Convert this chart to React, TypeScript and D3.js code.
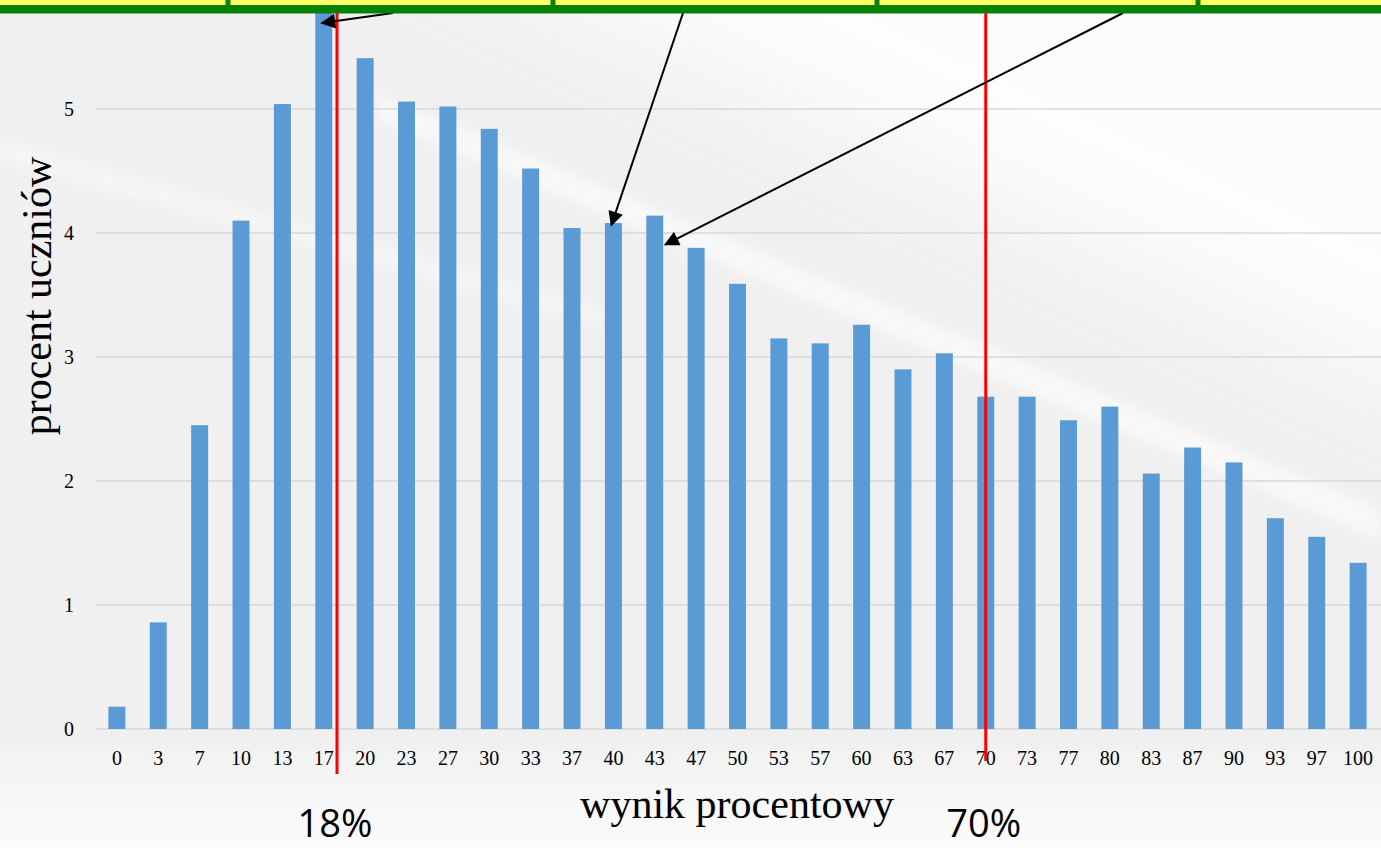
import React from "react";
import * as d3 from "d3";

const categories = ["0","3","7","10","13","17","20","23","27","30","33","37","40","43","47","50","53","57","60","63","67","70","73","77","80","83","87","90","93","97","100"];
const values = [0.18,0.86,2.45,4.10,5.04,6.30,5.41,5.06,5.02,4.84,4.52,4.04,4.08,4.14,3.88,3.59,3.15,3.11,3.26,2.90,3.03,2.68,2.68,2.49,2.60,2.06,2.27,2.15,1.70,1.55,1.34];
const yTicks = [0,1,2,3,4,5];
const thresholds = ["18%", "70%"];
const boxDividers = [228, 553, 877, 1198];

const W = 1381, H = 848;

export default function App() {
  const x = d3.scaleBand<string>().domain(categories).range([96, 1379]).paddingInner(0.59).paddingOuter(0.3);
  const y = d3.scaleLinear().domain([0, 5]).range([729, 109]);
  const bw = x.bandwidth();
  const cx = (c: string) => (x(c) as number) + bw / 2;
  const step = x.step();

  // threshold lines: 18% lies just right of the "17" bar, 70% centred at "70"
  const tX = [cx("17") + step * 0.32, cx("70")];

  const arrowSpecs = [
    { from: [393, 13], to: [cx("17") - 2, 23] },
    { from: [683, 13], to: [cx("40") - 2, y(values[categories.indexOf("40")]) + 2] },
    { from: [1123, 13], to: [cx("43") + bw / 2 + 2, y(values[categories.indexOf("43")]) + 29] },
  ];

  const serif = "Liberation Serif, Times New Roman, serif";

  return (
    <svg width={W} height={H} style={{ position: "absolute", left: 0, top: 0, display: "block" }}>
      <defs>
        <filter id="blur" x="-20%" y="-20%" width="140%" height="140%">
          <feGaussianBlur stdDeviation="50" />
        </filter>
        <filter id="blur2" x="-20%" y="-50%" width="140%" height="200%">
          <feGaussianBlur stdDeviation="6" />
        </filter>
        <marker id="ah" viewBox="0 0 10 10" refX="9" refY="5" markerWidth="9" markerHeight="7.5" orient="auto" markerUnits="strokeWidth">
          <path d="M0,0 L10,5 L0,10 z" fill="#000" />
        </marker>
      </defs>
      {/* background */}
      <rect x={0} y={0} width={W} height={H} fill="#f0f0f0" />
      <polygon points="350,-100 1500,-100 1500,430" fill="#ffffff" opacity={0.85} filter="url(#blur)" />
      <rect x={-100} y={790} width={1600} height={200} fill="#ffffff" opacity={0.8} filter="url(#blur)" />
      <polygon points="380,95 1381,510 1381,540 380,120" fill="#ffffff" opacity={0.55} filter="url(#blur2)" />
      <polygon points="0,140 600,310 600,325 0,160" fill="#ffffff" opacity={0.4} filter="url(#blur2)" />

      {/* gridlines */}
      {yTicks.map((t) => (
        <line key={t} x1={96} x2={1381} y1={y(t)} y2={y(t)} stroke="#d9d9d9" strokeWidth={1.5} />
      ))}
      {/* y tick labels */}
      {yTicks.map((t) => (
        <text key={t} x={69} y={y(t) + 7} textAnchor="middle" fontFamily={serif} fontSize={20} fill="#000">{t}</text>
      ))}
      {/* bars */}
      {categories.map((c, i) => (
        <rect key={c} x={x(c)} y={y(values[i])} width={bw} height={y(0) - y(values[i])} fill="#5b9bd5" />
      ))}
      {/* x tick labels */}
      {categories.map((c) => (
        <text key={c} x={cx(c)} y={765} textAnchor="middle" fontFamily={serif} fontSize={20} fill="#000">{c}</text>
      ))}
      {/* axis titles */}
      <text x={737} y={818} textAnchor="middle" fontFamily={serif} fontSize={42} fill="#000">wynik procentowy</text>
      <text transform="translate(51,296) rotate(-90)" textAnchor="middle" fontFamily={serif} fontSize={42} fill="#000">procent uczniów</text>

      {/* threshold lines */}
      <line x1={tX[0]} x2={tX[0]} y1={10} y2={774} stroke="#ff0000" strokeWidth={3} />
      <line x1={tX[1]} x2={tX[1]} y1={10} y2={761} stroke="#ff0000" strokeWidth={3} />
      {thresholds.map((t, i) => (
        <text key={t} x={tX[i] - 2} y={837} textAnchor="middle" fontFamily="Open Sans, Noto Sans, sans-serif" fontSize={38} fill="#000">{t}</text>
      ))}

      {/* arrows */}
      {arrowSpecs.map((a, i) => (
        <line key={i} x1={a.from[0]} y1={a.from[1]} x2={a.to[0]} y2={a.to[1]} stroke="#000" strokeWidth={2} markerEnd="url(#ah)" />
      ))}

      {/* top boxes */}
      <rect x={-10} y={-20} width={W + 20} height={26} fill="#ffff66" />
      <rect x={-10} y={5} width={W + 20} height={8.5} fill="#078007" />
      {boxDividers.map((d) => (
        <rect key={d} x={d - 2.5} y={-5} width={5} height={18} fill="#078007" />
      ))}
    </svg>
  );
}
